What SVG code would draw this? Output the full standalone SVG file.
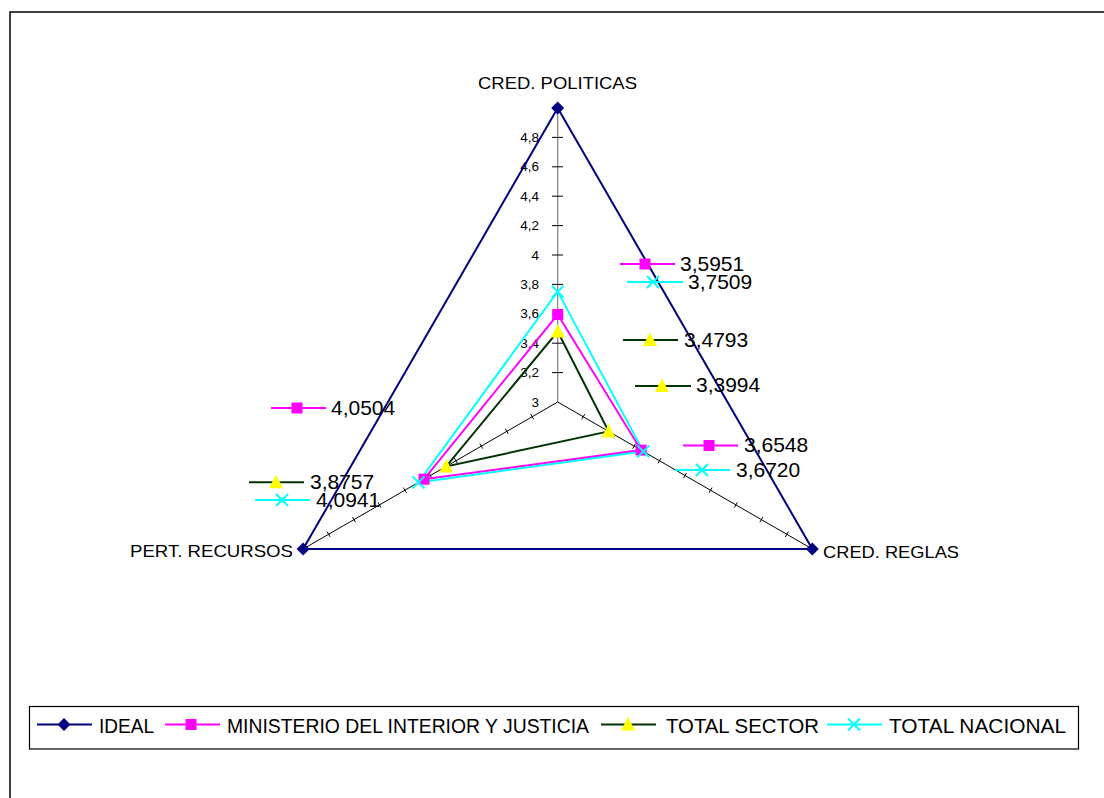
<svg xmlns="http://www.w3.org/2000/svg" xmlns:xlink="http://www.w3.org/1999/xlink" width="1104" height="798" viewBox="0 0 1104 798">
<style>
text{font-family:"Liberation Sans",Arial,sans-serif;fill:#000}
.tick{font-size:13.5px;text-anchor:end}
.axl{font-size:17px}
.dl{font-size:21px}
.lg{font-size:20px}
.s-ideal{fill:none;stroke:#000080;stroke-width:2}
.s-min{fill:none;stroke:#FF00FF;stroke-width:2}
.s-ts{fill:none;stroke:#003300;stroke-width:2}
.s-tn{fill:none;stroke:#00FFFF;stroke-width:2}
.ax{stroke:#000;stroke-width:1;fill:none}
</style>
<defs>
<path id="mDia" d="M0,-6.5 L6.5,0 L0,6.5 L-6.5,0Z" fill="#000080"/>
<rect id="mSq" x="-5.5" y="-5.5" width="11" height="11" fill="#FF00FF"/>
<path id="mTri" d="M0,-7.5 L7,6 L-7,6Z" fill="#FFFF00"/>
<path id="mX" d="M-6,-6 L6,6 M6,-6 L-6,6" stroke="#00FFFF" stroke-width="2" fill="none"/>
</defs>
<rect x="0" y="0" width="1104" height="798" fill="#fff"/>
<rect x="10" y="12" width="1200" height="900" fill="none" stroke="#000" stroke-width="1.5"/>

<g id="axes">
<line x1="557.7" y1="402" x2="557.7" y2="108" stroke="#808080" stroke-width="1.2"/>
<line class="ax" x1="557.7" y1="402" x2="812.3" y2="549"/>
<line class="ax" x1="557.7" y1="402" x2="303.1" y2="549"/>
<path class="ax" d="M552,372.6h11M552,343.2h11M552,313.8h11M552,284.4h11M552,255h11M552,225.6h11M552,196.2h11M552,166.8h11M552,137.4h11"/>
<path class="ax" d="M584.7,414.1l-3,5.2M610.1,428.8l-3,5.2M635.6,443.5l-3,5.2M661,458.2l-3,5.2M686.5,472.9l-3,5.2M712,487.6l-3,5.2M737.4,502.3l-3,5.2M762.9,517l-3,5.2M788.3,531.7l-3,5.2"/>
<path class="ax" d="M530.7,414.1l3,5.2M505.3,428.8l3,5.2M479.8,443.5l3,5.2M454.4,458.2l3,5.2M428.9,472.9l3,5.2M403.4,487.6l3,5.2M378,502.3l3,5.2M352.5,517l3,5.2M327.1,531.7l3,5.2"/>
<text class="tick" x="539" y="406.5">3</text>
<text class="tick" x="539" y="377">3,2</text>
<text class="tick" x="539" y="347.7">3,4</text>
<text class="tick" x="539" y="318.3">3,6</text>
<text class="tick" x="539" y="288.9">3,8</text>
<text class="tick" x="539" y="259.5">4</text>
<text class="tick" x="539" y="230.1">4,2</text>
<text class="tick" x="539" y="200.7">4,4</text>
<text class="tick" x="539" y="171.3">4,6</text>
<text class="tick" x="539" y="141.9">4,8</text>
<text class="axl" x="478" y="89" textLength="159" lengthAdjust="spacingAndGlyphs">CRED. POLITICAS</text>
<text class="axl" x="823" y="558" textLength="136" lengthAdjust="spacingAndGlyphs">CRED. REGLAS</text>
<text class="axl" x="130" y="557" textLength="163" lengthAdjust="spacingAndGlyphs">PERT. RECURSOS</text>
</g>

<g id="connectors">
<polygon class="s-ideal" points="557.7,108 812.3,549 303.1,549"/>
<polygon class="s-min" points="557.7,314.5 641.1,450.1 424,479.2"/>
<polygon class="s-ts" points="557.7,331.5 608.6,431.4 446.2,466.4"/>
<polygon class="s-tn" points="557.7,291.6 643.3,451.4 418.4,482.4"/>
</g>

<g id="series-ideal">
<use xlink:href="#mDia" x="557.7" y="108"/>
<use xlink:href="#mDia" x="812.3" y="549"/>
<use xlink:href="#mDia" x="303.1" y="549"/>
</g>
<g id="series-ministerio">
<use xlink:href="#mSq" x="557.7" y="314.5"/>
<use xlink:href="#mSq" x="641.1" y="450.1"/>
<use xlink:href="#mSq" x="424" y="479.2"/>
</g>
<g id="series-total-sector">
<use xlink:href="#mTri" x="557.7" y="331.5"/>
<use xlink:href="#mTri" x="608.6" y="431.4"/>
<use xlink:href="#mTri" x="446.2" y="466.4"/>
</g>
<g id="series-total-nacional">
<use xlink:href="#mX" x="557.7" y="291.6"/>
<use xlink:href="#mX" x="643.3" y="451.4"/>
<use xlink:href="#mX" x="418.4" y="482.4"/>
</g>

<g id="data-labels">
<line class="s-min" x1="620" y1="264" x2="675" y2="264"/><use xlink:href="#mSq" x="645" y="264"/>
<text class="dl" x="680" y="271">3,5951</text>
<line class="s-tn" x1="627" y1="282" x2="683" y2="282"/><use xlink:href="#mX" x="653" y="282"/>
<text class="dl" x="688" y="289">3,7509</text>
<line class="s-ts" x1="623" y1="340" x2="678" y2="340"/><use xlink:href="#mTri" x="650" y="340"/>
<text class="dl" x="684" y="346.5">3,4793</text>
<line class="s-ts" x1="635" y1="386" x2="691" y2="386"/><use xlink:href="#mTri" x="662" y="386"/>
<text class="dl" x="696" y="392">3,3994</text>
<line class="s-min" x1="683" y1="445.5" x2="738" y2="445.5"/><use xlink:href="#mSq" x="709" y="445.5"/>
<text class="dl" x="744" y="452">3,6548</text>
<line class="s-tn" x1="675" y1="470" x2="730" y2="470"/><use xlink:href="#mX" x="702" y="470"/>
<text class="dl" x="736" y="476.5">3,6720</text>
<line class="s-min" x1="271" y1="408" x2="326" y2="408"/><use xlink:href="#mSq" x="297" y="408"/>
<text class="dl" x="331" y="414.5">4,0504</text>
<line class="s-ts" x1="249" y1="482.3" x2="304" y2="482.3"/><use xlink:href="#mTri" x="276" y="482.3"/>
<text class="dl" x="310" y="488.5">3,8757</text>
<line class="s-tn" x1="255" y1="500" x2="310" y2="500"/><use xlink:href="#mX" x="282" y="500"/>
<text class="dl" x="316" y="506.5">4,0941</text>
</g>

<g id="legend">
<rect x="29.5" y="706.5" width="1049" height="42.5" fill="#fff" stroke="#000" stroke-width="1.2"/>
<line class="s-ideal" x1="37" y1="724.5" x2="92" y2="724.5"/><use xlink:href="#mDia" x="64" y="724.5"/>
<text class="lg" x="99" y="732.5" textLength="55" lengthAdjust="spacingAndGlyphs">IDEAL</text>
<line class="s-min" x1="165" y1="724.5" x2="220" y2="724.5"/><use xlink:href="#mSq" x="191" y="724.5"/>
<text class="lg" x="227" y="732.5" textLength="362" lengthAdjust="spacingAndGlyphs">MINISTERIO DEL INTERIOR Y JUSTICIA</text>
<line class="s-ts" x1="601" y1="724.5" x2="656" y2="724.5"/><use xlink:href="#mTri" x="628" y="724.5"/>
<text class="lg" x="666" y="732.5" textLength="153" lengthAdjust="spacingAndGlyphs">TOTAL SECTOR</text>
<line class="s-tn" x1="827" y1="724.5" x2="882" y2="724.5"/><use xlink:href="#mX" x="854" y="724.5"/>
<text class="lg" x="889" y="732.5" textLength="177" lengthAdjust="spacingAndGlyphs">TOTAL NACIONAL</text>
</g>
</svg>
